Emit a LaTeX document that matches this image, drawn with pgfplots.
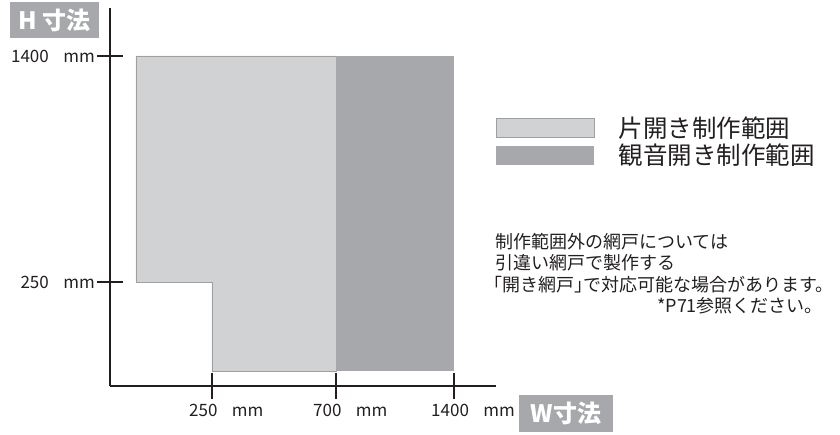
\documentclass[border=0pt]{standalone}
\usepackage{fontspec}
\setmainfont{Noto Sans CJK JP}
\usepackage{pgfplots}
\pgfplotsset{compat=1.18}
\definecolor{lightg}{HTML}{D1D2D4}
\definecolor{darkg}{HTML}{A7A8AB}
\definecolor{ink}{HTML}{231F20}
\newcommand{\unitmm}{\hspace{0.85em}mm}

\begin{document}
\begin{tikzpicture}
\begin{axis}[
  scale only axis, width=386pt, height=378pt,
  xmin=0, xmax=386, ymin=0, ymax=378,
  axis lines=left,
  axis line style={-, line width=2.2pt, ink},
  clip=false,
  xtick={102,226,344}, ytick={104,330},
  xticklabels={250\unitmm, 700\unitmm, 1400\unitmm},
  yticklabels={250\unitmm, 1400\unitmm},
  tick align=center, major tick length=26pt,
  tick style={line width=1.8pt, ink},
  tick label style={font=\fontsize{17}{20}\selectfont, text=ink, inner sep=0pt},
  xticklabel style={anchor=west, xshift=-23pt, yshift=-11pt},
  yticklabel style={anchor=east, xshift=-2pt},
  legend style={at={(axis cs:386,269)}, anchor=north west, draw=none, fill=none,
    inner sep=0pt, outer sep=0pt, row sep=5pt, column sep=24pt, text=ink,
    font=\fontsize{24.5}{27}\selectfont, nodes={inner sep=0pt}},
  legend cell align=left,
  legend image code/.code={\path[fill] (0pt,-9.5pt) rectangle (98pt,9.5pt);},
]
% light: single-door range, dark: double-door range (schematic pixel units)
\addplot[fill=lightg, draw=gray!75, line width=0.8pt]
  coordinates {(26,104) (26,330) (226,330) (226,15) (102,15) (102,104)} -- cycle;
\addlegendentry{片開き制作範囲}
\addplot[fill=darkg, draw=none]
  coordinates {(226,15) (226,330) (344,330) (344,15)} -- cycle;
\addlegendentry{観音開き制作範囲}

\node[fill=darkg, text=white, font=\fontsize{24}{26}\selectfont\bfseries,
  minimum width=89pt, minimum height=36pt, inner sep=0pt] at (axis cs:-55.5,366) {H 寸法};
\node[fill=darkg, text=white, font=\fontsize{24}{26}\selectfont\bfseries,
  minimum width=94pt, minimum height=37pt, inner sep=0pt] at (axis cs:456,-27.5) {W寸法};

\node[anchor=west, inner sep=0pt, text=ink, font=\fontsize{18}{20}\selectfont]
  at (axis cs:385,144) {制作範囲外の網戸については};
\node[anchor=west, inner sep=0pt, text=ink, font=\fontsize{18}{20}\selectfont]
  at (axis cs:385,123) {引違い網戸で製作する};
\node[anchor=west, inner sep=0pt, text=ink, font=\fontsize{18}{20}\selectfont]
  at (axis cs:383,101) {｢開き網戸｣で対応可能な場合があります。};
\node[anchor=west, inner sep=0pt, text=ink, font=\fontsize{18}{20}\selectfont]
  at (axis cs:547,80) {*P71参照ください。};

\coordinate (bl) at (axis cs:-110,-48);
\coordinate (tr) at (axis cs:730,386);
\end{axis}
\path (bl) rectangle (tr);
\end{tikzpicture}
\end{document}
